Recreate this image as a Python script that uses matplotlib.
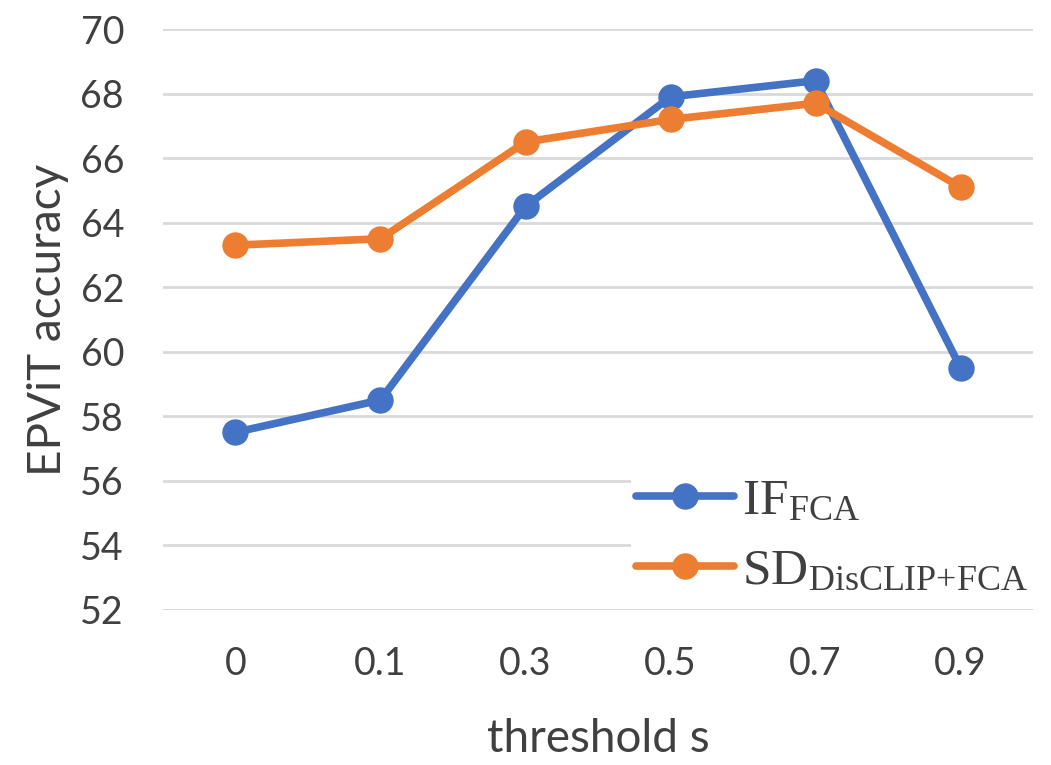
import matplotlib
matplotlib.use("Agg")
import matplotlib.pyplot as plt

thresholds = ["0", "0.1", "0.3", "0.5", "0.7", "0.9"]
if_fca = [57.5, 58.5, 64.5, 67.9, 68.4, 59.5]
sd_disclip_fca = [63.3, 63.5, 66.5, 67.2, 67.7, 65.1]
y_ticks = [52, 54, 56, 58, 60, 62, 64, 66, 68, 70]

plt.rcParams["font.family"] = ["Lato", "DejaVu Sans"]
plt.rcParams["mathtext.fontset"] = "custom"
plt.rcParams["mathtext.rm"] = "Liberation Serif"
plt.rcParams["mathtext.it"] = "Liberation Serif:italic"

text_color = "#404040"
grid_color = "#D9D9D9"
blue = "#4472C4"
orange = "#ED7D31"

fig = plt.figure(figsize=(10.51, 7.65), dpi=100)
ax = fig.add_axes([0.155, 0.203, 0.828, 0.759])

x = list(range(len(thresholds)))
ax.plot(x, if_fca, color=blue, linewidth=5.5, marker="o", markersize=18,
        label=r"$\mathrm{IF_{FCA}}$", solid_capstyle="round", zorder=3)
ax.plot(x, sd_disclip_fca, color=orange, linewidth=5.5, marker="o", markersize=18,
        label=r"$\mathrm{SD_{DisCLIP{+}FCA}}$", solid_capstyle="round", zorder=3)

ax.set_xlim(-0.5, len(thresholds) - 0.5)
ax.set_ylim(52, 70)
ax.set_xticks(x)
ax.set_xticklabels(thresholds)
ax.set_yticks(y_ticks)
ax.grid(axis="y", color=grid_color, linewidth=2)
ax.set_axisbelow(True)
for s in ax.spines.values():
    s.set_visible(False)
ax.tick_params(axis="both", length=0, labelsize=27, labelcolor=text_color)
ax.tick_params(axis="y", pad=28)
ax.tick_params(axis="x", pad=26)

ax.set_xlabel("threshold s", fontsize=33, color=text_color, labelpad=26)
ax.set_ylabel("EPViT accuracy", fontsize=33, color=text_color, labelpad=8)

leg = ax.legend(loc="lower right", bbox_to_anchor=(1.029, -0.025), fontsize=37,
                frameon=True, facecolor="white", edgecolor="none", framealpha=1,
                handlelength=1.9, handletextpad=0.15, labelspacing=0.48,
                borderpad=0.1, fancybox=False)
for t in leg.get_texts():
    t.set_color(text_color)
# keep the bottom gridline visible over the legend box
ax.axhline(52, color=grid_color, linewidth=2, zorder=6)

fig.savefig("out.png", dpi=100)
